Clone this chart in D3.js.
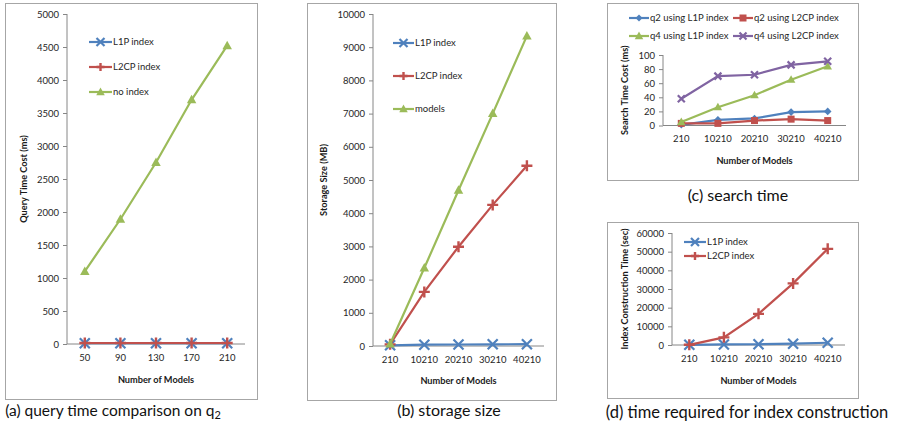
<!DOCTYPE html>
<html>
<head>
<meta charset="utf-8">
<script src="https://cdn.jsdelivr.net/npm/d3@7"></script>
<style>
  body { margin: 0; background: #fff; }
  svg { display: block; font-family: Lato, "Open Sans", sans-serif; }
  .tick text { fill: #262626; }
</style>
</head>
<body>
<div id="chart"></div>
<script>
// categories
var modelsA = ["50", "90", "130", "170", "210"];
var modelsB = ["210", "10210", "20210", "30210", "40210"];

// (a) query time on q2 (ms)
var qL1P = [12, 12, 12, 12, 12];
var qL2CP = [15, 15, 15, 15, 15];
var qNoIndex = [1100, 1890, 2750, 3700, 4520];

// (b) storage size (MB)
var sL1P = [20, 40, 45, 50, 55];
var sL2CP = [50, 1630, 2990, 4250, 5430];
var sModels = [60, 2350, 4690, 7000, 9340];

// (c) search time (ms)
var q2L1P = [1, 8, 10, 19, 20];
var q2L2CP = [3, 3, 7, 9, 7];
var q4L1P = [5, 26, 43, 65, 84];
var q4L2CP = [38, 70, 72, 86, 91];

// (d) index construction time (sec)
var cL1P = [100, 300, 400, 700, 1200];
var cL2CP = [100, 4100, 16700, 33000, 51500];

const W = 899, H = 429;
const BLUE = "#4f81bd", RED = "#c0504d", GREEN = "#9bbb59", PURPLE = "#8064a2";

const svg = d3.select("#chart").append("svg")
    .attr("width", W)
    .attr("height", H);

function marker(g, type, color, r) {
  if (type == "x") {
    g.append("path")
        .attr("d", "M" + (-r) + "," + (-r) + "L" + r + "," + r + "M" + (-r) + "," + r + "L" + r + "," + (-r))
        .attr("stroke", color).attr("stroke-width", 2.2).attr("fill", "none");
  } else if (type == "plus") {
    g.append("path")
        .attr("d", "M0," + (-r) + "L0," + r + "M" + (-r) + ",0L" + r + ",0")
        .attr("stroke", color).attr("stroke-width", 2.4).attr("fill", "none");
  } else if (type == "tri") {
    g.append("path")
        .attr("d", "M0," + (-r) + "L" + (r * 0.95) + "," + (r * 0.7) + "L" + (-r * 0.95) + "," + (r * 0.7) + "Z")
        .attr("fill", color);
  } else if (type == "diamond") {
    g.append("path")
        .attr("d", "M0," + (-r) + "L" + r + ",0L0," + r + "L" + (-r) + ",0Z")
        .attr("fill", color);
  } else if (type == "square") {
    g.append("rect")
        .attr("x", -r).attr("y", -r).attr("width", 2 * r).attr("height", 2 * r)
        .attr("fill", color);
  }
}

function drawPanel(p) {
  // frame
  svg.append("rect")
      .attr("x", p.frame[0] + 0.5).attr("y", p.frame[1] + 0.5)
      .attr("width", p.frame[2] - p.frame[0]).attr("height", p.frame[3] - p.frame[1])
      .attr("fill", "none").attr("stroke", "#a6a6a6").attr("stroke-width", 1);

  var x = d3.scaleBand().domain(p.cats).range([p.x0, p.x1]);
  var y = d3.scaleLinear().domain([0, p.max]).range([p.y0, p.y1]);

  var yAxis = svg.append("g")
      .attr("transform", "translate(" + p.x0 + ",0)")
      .call(d3.axisLeft(y).tickValues(d3.range(0, p.max + 1, p.step))
            .tickSize(4).tickPadding(4).tickFormat(d3.format("d")));
  yAxis.selectAll("line").attr("stroke", "#868686");
  yAxis.select(".domain").attr("stroke", "#868686").attr("d", "M0," + p.y0 + "V" + p.y1);
  yAxis.selectAll("text").attr("font-size", p.fs).attr("font-family", "Lato");

  var xAxis = svg.append("g")
      .attr("transform", "translate(0," + p.y0 + ")")
      .call(d3.axisBottom(x).tickSize(0).tickPadding(p.xpad));
  xAxis.select(".domain").attr("stroke", "#868686").attr("d", "M" + p.x0 + ",0H" + p.x1);
  xAxis.selectAll("text").attr("font-size", p.fs).attr("font-family", "Lato");

  // axis titles
  svg.append("text")
      .attr("x", (p.x0 + p.x1) / 2).attr("y", p.xtitleY)
      .attr("text-anchor", "middle")
      .attr("font-size", p.tfs).attr("font-weight", "bold").attr("fill", "#1a1a1a")
      .text("Number of Models");
  svg.append("text")
      .attr("transform", "translate(" + p.ytitleX + "," + ((p.y0 + p.y1) / 2) + ") rotate(-90)")
      .attr("text-anchor", "middle")
      .attr("font-size", p.tfs).attr("font-weight", "bold").attr("fill", "#1a1a1a")
      .text(p.ytitle);

  var line = d3.line()
      .x(function(d, i) { return x(p.cats[i]) + x.bandwidth() / 2; })
      .y(function(d) { return y(d); });

  p.series.forEach(function(s) {
    svg.append("path")
        .attr("d", line(s.values))
        .attr("fill", "none")
        .attr("stroke", s.color)
        .attr("stroke-width", 2.2);
    s.values.forEach(function(v, i) {
      var g = svg.append("g")
          .attr("transform", "translate(" + (x(p.cats[i]) + x.bandwidth() / 2) + "," + y(v) + ")");
      marker(g, s.marker, s.color, s.r);
    });
  });

  // legend
  p.series.forEach(function(s, i) {
    var lx = p.legend[i][0], ly = p.legend[i][1];
    svg.append("line")
        .attr("x1", lx).attr("x2", lx + p.legendLen)
        .attr("y1", ly).attr("y2", ly)
        .attr("stroke", s.color).attr("stroke-width", 2.2);
    var g = svg.append("g").attr("transform", "translate(" + (lx + p.legendLen / 2) + "," + ly + ")");
    marker(g, s.marker, s.color, s.lr);
    svg.append("text")
        .attr("x", lx + p.legendLen + 1).attr("y", ly)
        .attr("dy", "0.35em")
        .attr("font-size", p.lfs).attr("fill", "#262626")
        .text(s.name);
  });

  // caption
  var cap = svg.append("text")
      .attr("x", p.capX).attr("y", p.capY)
      .attr("text-anchor", "middle")
      .attr("font-size", p.capFs).attr("fill", "#111");
  cap.append("tspan").text(p.caption);
  if (p.sub) {
    cap.append("tspan").attr("font-size", 11).attr("dy", 3).text(p.sub);
  }
}

drawPanel({
  frame: [5, 3, 257, 399], cats: modelsA,
  x0: 67, x1: 245, y0: 344, y1: 14, max: 5000, step: 500,
  fs: 9.5, xpad: 10, tfs: 9.2, lfs: 9.5,
  xtitleY: 383, ytitleX: 27, ytitle: "Query Time Cost (ms)",
  legend: [[89, 42], [89, 67], [89, 92]], legendLen: 23,
  series: [
    {name: "L1P index", values: qL1P, color: BLUE, marker: "x", r: 5, lr: 4},
    {name: "L2CP index", values: qL2CP, color: RED, marker: "plus", r: 5.5, lr: 4},
    {name: "no index", values: qNoIndex, color: GREEN, marker: "tri", r: 5, lr: 4.5}
  ],
  caption: "(a) query time comparison on q", sub: "2", capX: 113, capY: 416, capFs: 15.5
});

drawPanel({
  frame: [307, 3, 556, 400], cats: modelsB,
  x0: 373, x1: 544, y0: 346, y1: 14, max: 10000, step: 1000,
  fs: 9.5, xpad: 10, tfs: 9.2, lfs: 9.5,
  xtitleY: 384, ytitleX: 327, ytitle: "Storage Size (MB)",
  legend: [[393, 43], [393, 76], [393, 109]], legendLen: 21,
  series: [
    {name: "L1P index", values: sL1P, color: BLUE, marker: "x", r: 5, lr: 4},
    {name: "L2CP index", values: sL2CP, color: RED, marker: "plus", r: 5.5, lr: 4},
    {name: "models", values: sModels, color: GREEN, marker: "tri", r: 5, lr: 4.5}
  ],
  caption: "(b) storage size", capX: 449, capY: 416, capFs: 16
});

drawPanel({
  frame: [607, 3, 858, 180], cats: modelsB,
  x0: 663, x1: 846, y0: 125.5, y1: 55, max: 100, step: 20,
  fs: 9.5, xpad: 10, tfs: 9.2, lfs: 9.5,
  xtitleY: 164, ytitleX: 628, ytitle: "Search Time Cost (ms)",
  legend: [[629, 18], [733, 18], [629, 36], [733, 36]], legendLen: 20,
  series: [
    {name: "q2 using L1P index", values: q2L1P, color: BLUE, marker: "diamond", r: 3.8, lr: 3.5},
    {name: "q2 using L2CP index", values: q2L2CP, color: RED, marker: "square", r: 3.5, lr: 3.5},
    {name: "q4 using L1P index", values: q4L1P, color: GREEN, marker: "tri", r: 4.5, lr: 4.5},
    {name: "q4 using L2CP index", values: q4L2CP, color: PURPLE, marker: "x", r: 3.5, lr: 3.5}
  ],
  caption: "(c) search time", capX: 738, capY: 201, capFs: 16
});

drawPanel({
  frame: [607, 222, 858, 398], cats: modelsB,
  x0: 672, x1: 845, y0: 345, y1: 233, max: 60000, step: 10000,
  fs: 9.5, xpad: 10, tfs: 9.2, lfs: 9.5,
  xtitleY: 384, ytitleX: 628, ytitle: "Index Construction Time (sec)",
  legend: [[684, 242], [684, 256]], legendLen: 22,
  series: [
    {name: "L1P index", values: cL1P, color: BLUE, marker: "x", r: 5, lr: 4},
    {name: "L2CP index", values: cL2CP, color: RED, marker: "plus", r: 5.5, lr: 4}
  ],
  caption: "(d) time required for index construction", capX: 747, capY: 418, capFs: 16.5
});
</script>
</body>
</html>
